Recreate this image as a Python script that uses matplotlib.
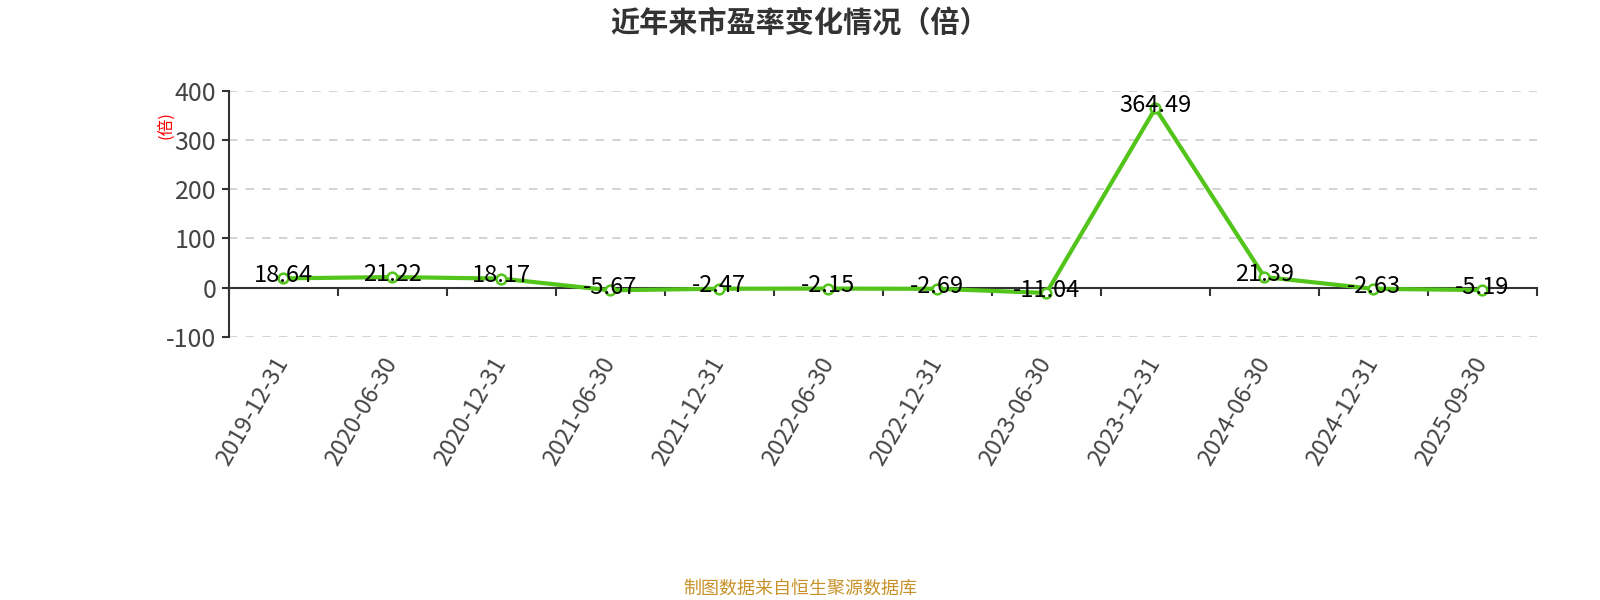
import matplotlib
matplotlib.use("Agg")
import matplotlib.pyplot as plt
import numpy as np

plt.rcParams['font.family'] = ['Noto Sans CJK SC', 'DejaVu Sans']

categories = ["2019-12-31", "2020-06-30", "2020-12-31", "2021-06-30", "2021-12-31",
              "2022-06-30", "2022-12-31", "2023-06-30", "2023-12-31", "2024-06-30",
              "2024-12-31", "2025-09-30"]
pe_values = [18.64, 21.22, 18.17, -5.67, -2.47, -2.15, -2.69, -11.04, 364.49, 21.39, -2.63, -5.19]
label_texts = ["18.64", "21.22", "18.17", "-5.67", "-2.47", "-2.15", "-2.69", "-11.04",
               "364.49", "21.39", "-2.63", "-5.19"]
y_ticks = [-100, 0, 100, 200, 300, 400]

title = "近年来市盈率变化情况（倍）"
unit_label = "(倍)"
source = "制图数据来自恒生聚源数据库"

line_color = "#52c41a"
axis_color = "#333333"

fig = plt.figure(figsize=(16, 6), dpi=100)
ax = fig.add_axes([0.143, 0.4388, 0.8176, 0.41])

x = np.arange(len(categories))
ax.plot(x, pe_values, color=line_color, lw=3, zorder=3,
        marker='o', markersize=7, markerfacecolor='white',
        markeredgecolor=line_color, markeredgewidth=1.8)

for xi, v, t in zip(x, pe_values, label_texts):
    ax.annotate(t, (xi, v), xytext=(0, 2), textcoords='offset points',
                ha='center', va='center', fontsize=17, color='black', zorder=4)

ax.set_xlim(-0.5, len(categories) - 0.5)
ax.set_ylim(-100, 400)
ax.set_yticks(y_ticks)
ax.set_yticklabels([str(v) for v in y_ticks])
ax.grid(axis='y', color='#cccccc', linestyle=(0, (5, 5)), lw=1.2)
ax.set_axisbelow(True)
ax.get_ygridlines()[y_ticks.index(0)].set_visible(False)

for s in ['top', 'right', 'bottom']:
    ax.spines[s].set_visible(False)
ax.spines['left'].set_color(axis_color)
ax.spines['left'].set_linewidth(1.5)
ax.tick_params(axis='y', colors=axis_color, labelsize=18, length=5, width=1.5, pad=4)
ax.tick_params(axis='y', labelcolor='#444444')

ax.set_xticks(x)
ax.set_xticklabels(categories, rotation=60, ha='right', va='center', rotation_mode='anchor',
                   fontsize=17, color='#444444')
ax.tick_params(axis='x', length=0, pad=16)

# x axis line at y=0 with boundary ticks
sec = ax.secondary_xaxis(0.2)
sec.set_xticks(np.arange(-0.5, len(categories), 1.0))
sec.set_xticklabels([])
sec.tick_params(axis='x', direction='out', length=6, width=1.5, colors=axis_color)
sec.spines['bottom'].set_color(axis_color)
sec.spines['bottom'].set_linewidth(1.5)

ax.text(-0.048, 0.861, unit_label, transform=ax.transAxes, rotation=90,
        color='red', fontsize=12, ha='center', va='center')

fig.text(0.5, 0.962, title, ha='center', va='center', fontsize=21,
         fontweight='bold', color='#333333')
fig.text(0.5, 0.019, source, ha='center', va='center', fontsize=13, color='#c8922a')

fig.savefig("out.png", dpi=100, facecolor='white')
